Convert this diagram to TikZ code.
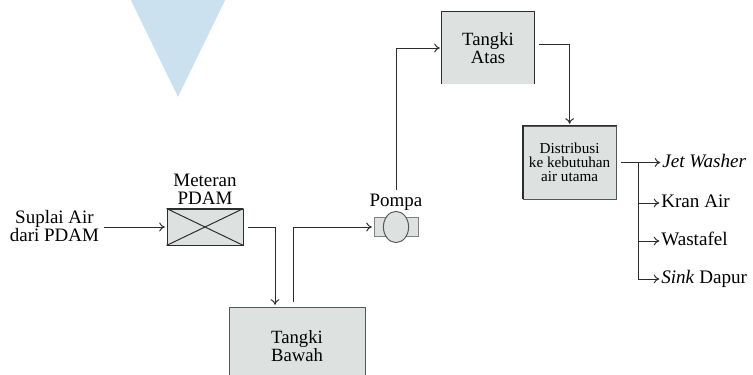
\documentclass[tikz,border=0pt]{standalone}
\usepackage{fontspec}
\setmainfont{Liberation Serif}
\usetikzlibrary{shapes.geometric, arrows.meta, positioning, calc}
\definecolor{boxgray}{RGB}{221, 225, 224}
\definecolor{edgedark}{RGB}{45, 45, 45}
\definecolor{funnelblue}{RGB}{204, 225, 239}
\tikzstyle{arrow} = [-{To[length=1.4mm, width=2.2mm]}, line width=0.7pt, edgedark, shorten >=1.2pt, shorten <=3pt]
\tikzstyle{wire} = [line width=0.7pt, edgedark]
\tikzstyle{tank} = [draw=edgedark!80, fill=boxgray, line width=0.7pt, align=center, inner sep=0pt, font=\fontsize{13.3}{13}\selectfont]
\tikzstyle{rim} = [line width=1.3pt, edgedark]
\tikzstyle{caption} = [align=center, inner sep=0pt, font=\fontsize{13.5}{12.4}\selectfont]
\tikzstyle{outlet} = [anchor=west, inner sep=0pt, text height=10pt, text depth=3pt, font=\fontsize{13.6}{14}\selectfont]
\begin{document}
\begin{tikzpicture}
    \useasboundingbox (0, 0) rectangle (18.825, 9.35);
    \clip (0, 0) rectangle (18.825, 9.35);

    % Funnel at the top
    \fill[funnelblue] (3.05, 9.8) -- (5.85, 9.8) -- (4.45, 6.93) -- cycle;

    % Water supply and meter
    \node[caption] (suplai) at (1.3625, 3.7) {Suplai Air\\dari PDAM};
    \node[draw=edgedark, fill=boxgray, line width=0.7pt, minimum width=1.9cm, minimum height=0.9cm, inner sep=0pt] (meteran) at (5.125, 3.675) {};
    \draw[wire] (meteran.north west) -- (meteran.south east);
    \draw[wire] (meteran.south west) -- (meteran.north east);
    \draw[rim] (meteran.north west) -- (meteran.north east);
    \node[caption, above=0.1cm of meteran] (meterlabel) {Meteran\\PDAM};

    % Tanks
    \node[tank, minimum width=3.4cm, minimum height=1.95cm] (bawah) at (7.425, 0.7) {Tangki\\Bawah};
    \node[tank, draw=none, minimum width=2.3cm, minimum height=1.8cm] (atas) at (12.2, 8.15) {Tangki\\Atas};
    \draw[rim] (atas.south west) -- (atas.north west) -- (atas.north east);
    \draw[wire] (atas.north east) -- (atas.south east);
    \node[tank, minimum width=2.325cm, minimum height=1.825cm, font=\fontsize{10.8}{10}\selectfont] (distribusi) at (14.24, 5.2875) {Distribusi\\ke kebutuhan\\air utama};
    \draw[rim] (distribusi.south west) -- (distribusi.north west) -- (distribusi.north east);

    % Pump
    \node[draw=edgedark!60, fill=boxgray, line width=0.6pt, minimum width=1.1cm, minimum height=0.48cm, inner sep=0pt] (pompabody) at (9.9, 3.675) {};
    \node[ellipse, draw=edgedark!80, fill=boxgray, line width=0.7pt, minimum width=0.63cm, minimum height=0.78cm, inner sep=0pt] (pompa) at (9.9, 3.675) {};
    \node[caption, above=0cm of pompa] (pompalabel) {Pompa};

    % Outlets
    \node[outlet] (jet) at (16.55, 5.2875) {\textit{Jet Washer}};
    \node[outlet] (kran) at (16.525, 4.275) {Kran Air};
    \node[outlet] (wastafel) at (16.525, 3.325) {Wastafel};
    \node[outlet] (sink) at (16.525, 2.375) {\textit{Sink} Dapur};
    \coordinate (cabang) at (15.95, 5.2875);

    % Connectors
    \draw[arrow] (suplai.east |- meteran.west) -- (meteran.west);
    \draw[arrow] (meteran.east) -| ([xshift=-0.55cm]bawah.north);
    \draw[arrow] ([xshift=-0.1cm]bawah.north) |- (pompabody.west);
    \draw[arrow] (pompalabel.north) |- (atas.west);
    \draw[arrow] ([yshift=0.1cm]atas.east) -| (distribusi.north);
    \draw[arrow] (distribusi.east) -- (jet.west);
    \draw[arrow, shorten <=0pt] (cabang) |- (kran.west);
    \draw[arrow, shorten <=0pt] (cabang) |- (wastafel.west);
    \draw[arrow, shorten <=0pt] (cabang) |- (sink.west);
\end{tikzpicture}
\end{document}
